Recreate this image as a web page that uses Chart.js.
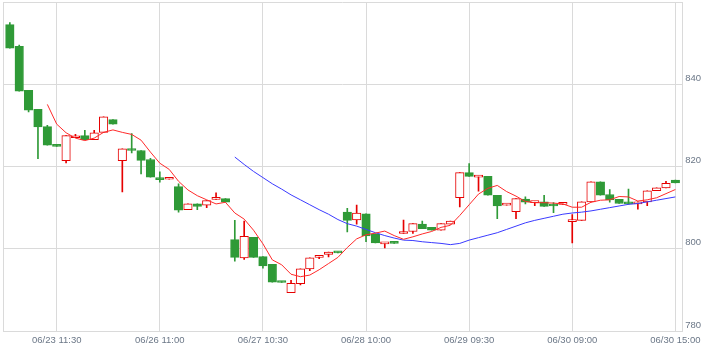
<!DOCTYPE html>
<html><head><meta charset="utf-8">
<script src="https://cdn.jsdelivr.net/npm/chart.js@4"></script>
<style>html,body{margin:0;padding:0;background:#fff;}#wrap{width:720px;height:354px;}</style>
</head><body><div id="wrap"><canvas id="c" width="720" height="354"></canvas></div>
<script>
// ---- data ----
const days = ['06/23','06/26','06/27','06/28','06/29','06/30'];
const sessions = ['09:00','09:30','10:00','10:30','11:00','11:30','12:30','13:00','13:30','14:00','14:30','15:00'];
const categories = days.flatMap(d => sessions.map(t => d + ' ' + t));
const xTickLabels = ['06/23 11:30','06/26 11:00','06/27 10:30','06/28 10:00','06/29 09:30','06/30 09:00','06/30 15:00'];
const yTickLabels = ['780','800','820','840'];

const open  = [854.5,849.2,838.5,833.9,829.7,825.3,821.4,827.0,827.5,826.5,828.3,831.4,821.4,824.3,823.9,821.7,817.2,816.9,815.1,809.5,
               810.9,810.6,812.0,812.2,802.2,797.8,802.8,798.1,796.2,792.0,789.3,791.5,795.1,797.9,798.6,799.2,808.9,807.0,808.5,803.6,
               801.2,801.5,803.7,804.2,806.0,805.2,804.5,806.0,812.4,818.5,817.4,817.6,813.0,810.6,809.0,812.1,811.2,811.4,810.7,810.8,
               806.6,806.9,811.4,816.3,813.2,812.0,811.1,810.9,811.4,814.1,814.8,816.7];
const high  = [855.0,849.5,838.5,833.9,830.0,825.3,827.5,827.8,828.8,828.8,832.1,831.4,824.3,828.0,823.9,822.0,818.7,817.0,815.8,810.9,
               810.9,811.7,813.6,812.2,806.9,806.7,802.8,798.1,796.2,792.0,792.3,795.1,797.8,798.4,799.2,799.2,809.8,810.6,808.5,803.6,
               801.4,801.5,807.0,806.1,806.7,805.2,806.1,806.7,818.5,820.7,817.7,817.6,813.0,810.8,812.2,812.6,811.4,813.0,811.2,811.1,
               808.3,811.4,816.3,816.3,814.4,812.0,814.5,811.4,814.1,814.8,816.4,816.7];
const low   = [848.8,838.3,833.3,821.9,825.2,824.9,820.9,827.0,826.5,826.5,828.3,830.3,813.8,823.3,818.2,817.4,816.2,816.9,808.9,809.5,
               809.5,810.0,812.0,811.3,797.0,797.4,797.9,795.3,791.9,791.8,789.3,791.2,794.7,797.6,798.0,799.0,804.1,806.0,801.7,801.4,
               800.2,801.3,803.7,803.7,804.9,804.5,804.5,806.0,810.2,817.6,814.0,813.0,807.3,810.6,807.3,810.9,810.5,810.3,808.8,810.8,
               801.4,806.9,811.4,813.0,811.3,811.0,810.8,809.6,810.5,814.1,814.8,816.0];
const close = [848.8,838.3,833.7,829.6,825.2,824.9,827.5,827.4,826.5,828.2,832.1,830.3,824.3,823.9,821.5,817.4,816.8,817.0,809.4,810.9,
               810.3,811.7,812.2,811.3,797.9,803.0,797.9,795.8,791.9,791.8,791.6,795.1,797.8,798.4,799.2,799.0,806.9,808.7,803.1,801.4,
               801.4,801.3,804.2,806.1,804.9,804.5,806.1,806.7,818.5,817.6,817.7,813.0,810.4,810.8,812.2,811.3,811.4,810.3,810.4,811.1,
               807.1,811.4,816.3,813.0,811.9,811.0,810.9,811.4,814.1,814.8,815.9,816.0];
const maShort = [null,null,null,null,
               835.1,830.3,828.2,826.9,826.3,826.9,828.3,828.9,828.3,827.8,826.4,823.5,820.8,819.3,816.4,814.3,
               812.9,811.9,810.9,811.3,808.7,807.2,804.5,801.2,797.3,796.1,793.8,793.2,793.6,794.9,796.4,797.9,
               800.3,802.4,803.4,803.8,804.3,803.2,802.3,802.9,803.6,804.2,805.2,805.7,808.1,810.7,813.3,814.7,
               815.4,813.9,812.8,811.5,811.2,811.2,811.1,810.9,810.1,810.1,811.3,811.8,811.9,812.7,812.6,811.6,
               811.9,812.4,813.4,814.4];
const maLong = [null,null,null,null,null,null,null,null,null,null,null,null,null,null,null,null,null,null,null,null,null,null,null,null,
               822.3,820.5,818.8,817.3,815.8,814.5,813.1,811.9,810.7,809.5,808.4,807.1,806.1,805.5,804.7,803.9,
               803.2,802.6,802.1,802.0,801.7,801.5,801.3,801.0,801.3,802.1,802.7,803.3,803.9,804.7,805.5,806.3,
               806.9,807.4,807.9,808.4,808.7,808.9,809.2,809.6,810.0,810.4,810.8,811.0,811.4,811.8,812.2,812.6];

// ---- styling ----
const GREEN = '#2f9a37', RED = '#e60000', GRID = '#dadada', TXT = '#6b7787';
const FONT = {family: "'Liberation Sans', Arial, sans-serif", size: 9.5};
const idx = categories.map((_, i) => i);
const up = idx.map(i => close[i] >= open[i]);

const frame = {
  id: 'frame',
  beforeDatasetsDraw(chart) {
    const {ctx, chartArea: a} = chart;
    ctx.save();
    ctx.strokeStyle = GRID; ctx.lineWidth = 1;
    ctx.beginPath();
    ctx.moveTo(Math.round(a.left) + 0.5, a.top);
    ctx.lineTo(Math.round(a.left) + 0.5, a.bottom);
    ctx.stroke();
    ctx.restore();
  }
};

new Chart(document.getElementById('c'), {
  type: 'bar',
  data: {
    datasets: [
      {type: 'line', data: idx.map(i => ({x: i, y: maShort[i]})), borderColor: '#ff2a2a', borderWidth: 1,
       pointRadius: 0, tension: 0, spanGaps: false, order: 0},
      {type: 'line', data: idx.map(i => ({x: i, y: maLong[i]})), borderColor: '#3a3aff', borderWidth: 1,
       pointRadius: 0, tension: 0, spanGaps: false, order: 1},
      {type: 'bar', data: idx.map(i => ({x: i, y: [open[i], close[i]]})),
       backgroundColor: up.map(u => u ? '#ffffff' : GREEN), borderColor: up.map(u => u ? RED : GREEN),
       borderWidth: 1, borderSkipped: false, barThickness: 8.5, minBarLength: 2, grouped: false, order: 2},
      {type: 'bar', data: idx.map(i => ({x: i, y: [low[i], high[i]]})),
       backgroundColor: up.map(u => u ? RED : GREEN), borderWidth: 0, barThickness: 1, grouped: false, order: 3}
    ]
  },
  options: {
    responsive: false, animation: false, events: [],
    layout: {padding: {left: 3, top: 2, right: 0, bottom: 0}},
    plugins: {legend: {display: false}, tooltip: {enabled: false}},
    scales: {
      x: {
        type: 'linear', position: 'bottom', min: -0.73, max: 71.74, offset: false,
        afterBuildTicks: s => { s.ticks = xTickLabels.map(l => ({value: categories.indexOf(l)})); },
        afterFit: s => { s.height = 23; s.paddingLeft = 0; s.paddingRight = 0; },
        ticks: {autoSkip: false, maxRotation: 0, minRotation: 0, padding: 4, color: TXT, font: FONT,
                callback: v => categories[v]},
        grid: {color: GRID, drawTicks: false, offset: false},
        border: {color: GRID}
      },
      y: {
        type: 'linear', position: 'right', min: 780, max: 860,
        afterBuildTicks: s => { s.ticks = [780, 800, 820, 840, 860].map(v => ({value: v})); },
        afterFit: s => { s.width = 37.7; s.paddingTop = 0; s.paddingBottom = 0; },
        ticks: {padding: 3, labelOffset: -6, color: TXT, font: FONT,
                callback: v => yTickLabels.includes(String(v)) ? String(v) : ''},
        grid: {color: GRID, drawTicks: false},
        border: {color: GRID}
      }
    }
  },
  plugins: [frame]
});
</script>
</body></html>
